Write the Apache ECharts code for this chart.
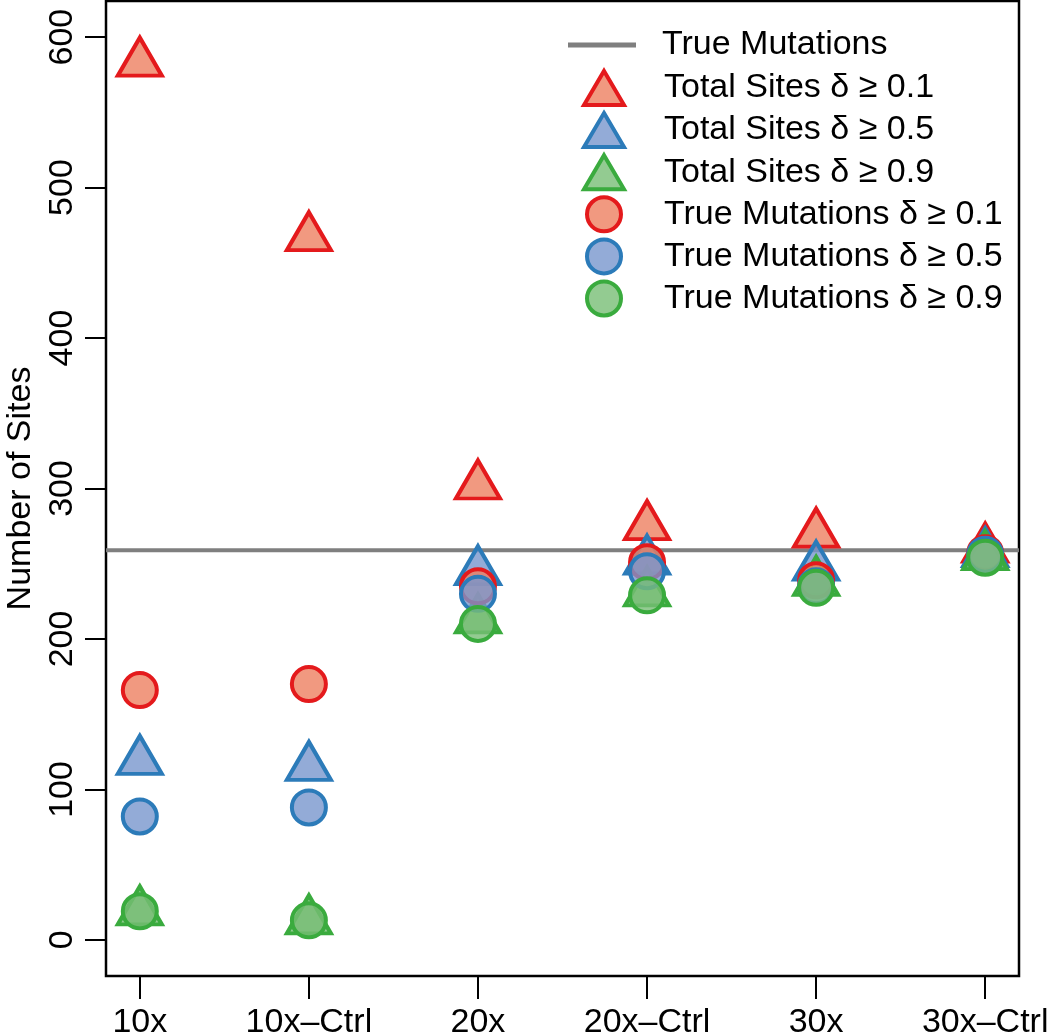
<!DOCTYPE html>
<html>
<head>
<meta charset="utf-8">
<script src="https://cdn.jsdelivr.net/npm/echarts@6/dist/echarts.min.js"></script>
<style>
  html, body { margin: 0; padding: 0; background: #fff; }
  #chart { width: 1050px; height: 1034px; }
</style>
</head>
<body>
<div id="chart"></div>
<script>
// 数据
const categories = ['10x', '10x\u2013Ctrl', '20x', '20x\u2013Ctrl', '30x', '30x\u2013Ctrl']
const yTicks = [0, 100, 200, 300, 400, 500, 600]
const trueMutations = 259
const totalSites01 = [583, 467, 302, 275, 270, 260]
const totalSites05 = [119, 115, 245, 252, 248, 257]
const totalSites09 = [19, 13, 213, 231, 238, 255]
const trueMut01 = [166, 170, 235, 251, 239, 257]
const trueMut05 = [82, 88, 230, 245, 235, 256]
const trueMut09 = [19, 13, 210, 229, 234, 254]

const font = 'Liberation Sans, Arial, Helvetica, sans-serif'
const red = { stroke: '#e41a1c', fill: 'rgba(238,128,96,0.8)' }
const blue = { stroke: '#2c7bb9', fill: 'rgba(120,150,205,0.8)' }
const green = { stroke: '#3aab3e', fill: 'rgba(120,190,118,0.8)' }

const toPoints = (arr) => arr.map((v, i) => [i + 1, v])

function pointSeries(name, arr, shape, c, z) {
  const tri = shape === 'triangle'
  return {
    name,
    type: 'scatter',
    data: toPoints(arr),
    symbol: shape,
    symbolSize: tri ? [44, 38] : 34,
    symbolOffset: tri ? [0, -6] : [0, 0],
    z,
    itemStyle: { color: c.fill, borderColor: c.stroke, borderWidth: 4, opacity: 1 },
    emphasis: { disabled: true }
  }
}

const pointNames = [
  'Total Sites \u03b4 \u2265 0.1',
  'Total Sites \u03b4 \u2265 0.5',
  'Total Sites \u03b4 \u2265 0.9',
  'True Mutations \u03b4 \u2265 0.1',
  'True Mutations \u03b4 \u2265 0.5',
  'True Mutations \u03b4 \u2265 0.9'
]

const chart = echarts.init(document.getElementById('chart'))
chart.setOption({
  animation: false,
  textStyle: { fontFamily: font },
  grid: {
    left: 106, right: 31, top: 1, bottom: 58,
    outerBoundsMode: 'none',
    show: true, borderColor: '#000', borderWidth: 2.5, backgroundColor: 'transparent'
  },
  legend: [
    {
      data: [{ name: 'True Mutations', icon: 'rect' }],
      left: 563, top: 23,
      itemWidth: 68, itemHeight: 5,
      itemStyle: { color: '#7f7f7f', borderWidth: 0 },
      textStyle: { fontSize: 34, fontFamily: font, color: '#000', lineHeight: 34, padding: [0, 0, 0, 21] },
      selectedMode: false
    },
    {
      data: pointNames,
      orient: 'vertical',
      left: 577, top: 64,
      itemWidth: 40, itemHeight: 34, itemGap: 4.1,
      itemStyle: { borderWidth: 4 },
      textStyle: { fontSize: 34, fontFamily: font, color: '#000', lineHeight: 34, padding: [0, 0, 0, 35] },
      selectedMode: false
    }
  ],
  xAxis: {
    type: 'value',
    min: 0.8, max: 6.2,
    splitLine: { show: false },
    axisLine: { show: false, onZero: false },
    axisTick: { show: true, length: 23, customValues: [1, 2, 3, 4, 5, 6], lineStyle: { color: '#000', width: 2 } },
    axisLabel: {
      customValues: [1, 2, 3, 4, 5, 6],
      formatter: (v) => categories[Math.round(v) - 1],
      fontSize: 34, lineHeight: 34, color: '#000', margin: 30, fontFamily: font
    }
  },
  yAxis: {
    type: 'value',
    min: -24, max: 624,
    name: 'Number of Sites',
    nameLocation: 'middle',
    nameGap: 44,
    nameTextStyle: { fontSize: 34, color: '#000', fontFamily: font },
    splitLine: { show: false },
    axisLine: { show: false, onZero: false },
    axisTick: { show: true, length: 21, customValues: yTicks, lineStyle: { color: '#000', width: 2 } },
    axisLabel: {
      customValues: yTicks,
      rotate: 90,
      fontSize: 34, lineHeight: 34, color: '#000', margin: 26, fontFamily: font
    }
  },
  series: [
    {
      name: 'True Mutations',
      type: 'line',
      data: [[0.8, trueMutations], [6.2, trueMutations]],
      symbol: 'none',
      z: 1,
      lineStyle: { color: '#7f7f7f', width: 4 },
      itemStyle: { color: '#7f7f7f' },
      silent: true
    },
    pointSeries(pointNames[0], totalSites01, 'triangle', red, 2),
    pointSeries(pointNames[1], totalSites05, 'triangle', blue, 3),
    pointSeries(pointNames[2], totalSites09, 'triangle', green, 4),
    pointSeries(pointNames[3], trueMut01, 'circle', red, 5),
    pointSeries(pointNames[4], trueMut05, 'circle', blue, 6),
    pointSeries(pointNames[5], trueMut09, 'circle', green, 7)
  ]
})
</script>
</body>
</html>
